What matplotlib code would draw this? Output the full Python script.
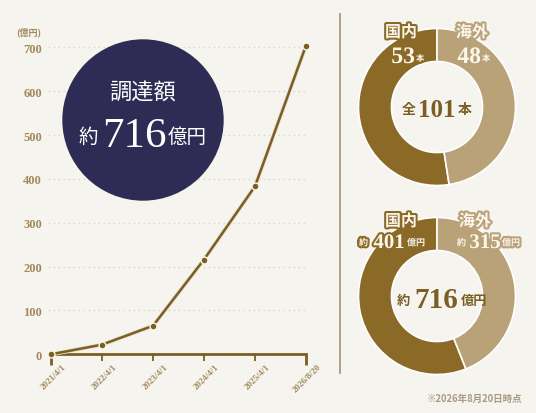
import matplotlib.pyplot as plt
import matplotlib.patheffects as pe
from matplotlib.patches import Circle
from matplotlib.transforms import ScaledTranslation

# data
dates = ["2021/4/1", "2022/4/1", "2023/4/1", "2024/4/1", "2025/4/1", "2026/8/20"]
amounts = [0, 22, 65, 216, 383, 704]
y_ticks = [0, 100, 200, 300, 400, 500, 600, 700]
regions = ["国内", "海外"]
deal_counts = [53, 48]
region_amounts = [401, 315]
total_count = 101
total_amount = 716

# colors
BG = "#f6f4ef"
DARK = "#8b6a28"
LIGHT = "#b9a278"
LINE = "#7a5e24"
TICK = "#a08a5c"
NAVY = "#2e2b54"
CREAM = "#fbf7ec"

JP = ["Noto Sans CJK JP", "DejaVu Sans"]
SERIF = ["Liberation Serif", "DejaVu Serif"]

W, H = 536, 414
fig = plt.figure(figsize=(W / 100, H / 100), dpi=100, facecolor=BG)

def box(left, top, width, height):
    return [left / W, (H - top - height) / H, width / W, height / H]

# line chart ---------------------------------------------------------
# x: index 0 at px 51, 51px per step ; y: 0 at px 355.3, 0.4386 px per unit
x0, dx = 51, 51
y0, dy = 355.3, 0.4386
ax_l, ax_r, ax_t, ax_b = 46, 318, 28, 372
ax = fig.add_axes(box(ax_l, ax_t, ax_r - ax_l, ax_b - ax_t))
ax.set_facecolor("none")
ax.set_xlim((ax_l - x0) / dx, (ax_r - x0) / dx)
ax.set_ylim((y0 - ax_b) / dy, (y0 - ax_t) / dy)
xs = list(range(len(dates)))

ax.hlines(y_ticks[1:], -0.06, 5.04, colors="#e0d9c9", linestyles=(0, (1.2, 2.4)), linewidth=1, zorder=1)
ax.plot(xs, amounts, color=LINE, lw=1.8, zorder=3,
        path_effects=[pe.Stroke(linewidth=3, foreground="#e8e1cf"), pe.Normal()])
ax.plot(xs, amounts, ls="none", marker="o", ms=5, mfc=LINE, mec=CREAM, mew=1, zorder=4)

for s in ["top", "right", "left"]:
    ax.spines[s].set_visible(False)
ax.spines["bottom"].set_position(("data", 0))
ax.spines["bottom"].set_bounds(0, len(dates) - 1)
ax.spines["bottom"].set_color(LINE)
ax.spines["bottom"].set_linewidth(2)

ax.set_yticks(y_ticks)
ax.set_yticklabels([str(v) for v in y_ticks], family=SERIF, fontsize=9, color=TICK, fontweight="bold")
ax.tick_params(axis="y", length=0, pad=3)

ax.set_xticks(xs)
ax.set_xticklabels(dates, family=SERIF, fontsize=6.4, color=TICK, fontweight="bold",
                   rotation=45, ha="right", va="center", rotation_mode="anchor")
ax.tick_params(axis="x", length=5, width=1.3, color=LINE, pad=0)
ticks = ax.xaxis.get_major_ticks()
for t in (ticks[0], ticks[-1]):
    t.tick1line.set_markersize(8)
    t.tick1line.set_markeredgewidth(2)
off = ScaledTranslation(14 / 100, -4 / 100, fig.dpi_scale_trans)
for lab in ax.get_xticklabels():
    lab.set_transform(lab.get_transform() + off)

# donuts -------------------------------------------------------------
R = 78.5
def donut(cx, cy, values):
    dax = fig.add_axes(box(cx - R, cy - R, 2 * R, 2 * R))
    dax.pie(values, colors=[DARK, LIGHT], startangle=90, counterclock=True, radius=1,
            wedgeprops=dict(width=0.42, edgecolor="white", linewidth=1.2))
    dax.set_xlim(-1, 1)
    dax.set_ylim(-1, 1)
    dax.set_aspect("equal")
    dax.axis("off")

donut(437, 108, deal_counts)
donut(437, 297, region_amounts)

# overlay for circle, separator and texts ---------------------------
ov = fig.add_axes([0, 0, 1, 1])
ov.set_xlim(0, W)
ov.set_ylim(H, 0)
ov.axis("off")
ov.patch.set_alpha(0)

ov.add_patch(Circle((143, 121), 80, color=NAVY, zorder=2))
ov.plot([340, 340], [15, 374], color="#a89a80", lw=1.3)

ov.text(29, 32, "(億円)", family=JP, fontsize=6.5, color=TICK, fontweight="bold", ha="center", va="center")

ov.text(143, 93, "調達額", family=JP, fontsize=16, color="white", ha="center", va="center", zorder=3)
ov.text(98, 137, "約", family=JP, fontsize=14, color="white", ha="right", va="center", zorder=3)
ov.text(134, 147, str(total_amount), family=SERIF, fontsize=31, color="white", ha="center", va="baseline", zorder=3)
ov.text(168, 137, "億円", family=JP, fontsize=14, color="white", ha="left", va="center", zorder=3)

def outlined(x, y, s, stroke, size, family=JP, ha="center", va="center"):
    ov.text(x, y, s, family=family, fontsize=size, color=CREAM, fontweight="bold", ha=ha, va=va,
            path_effects=[pe.withStroke(linewidth=3, foreground=stroke)])

# top donut labels
outlined(401, 33, regions[0], DARK, 11.5)
outlined(472, 33, regions[1], LIGHT, 11.5)
outlined(415, 64, str(deal_counts[0]), DARK, 17, family=SERIF, ha="right", va="baseline")
outlined(416, 62, "本", DARK, 6, ha="left", va="baseline")
outlined(481, 64, str(deal_counts[1]), LIGHT, 17, family=SERIF, ha="right", va="baseline")
outlined(482, 62, "本", LIGHT, 6, ha="left", va="baseline")

ov.text(416, 110, "全", family=JP, fontsize=10, color=LINE, fontweight="bold", ha="right", va="center")
ov.text(437, 117, str(total_count), family=SERIF, fontsize=18, color=LINE, fontweight="bold", ha="center", va="baseline")
ov.text(458, 110, "本", family=JP, fontsize=10, color=LINE, fontweight="bold", ha="left", va="center")

# bottom donut labels
outlined(401, 222, regions[0], DARK, 11.5)
outlined(475, 222, regions[1], LIGHT, 11.5)
outlined(368, 244, "約", DARK, 6.5, ha="right", va="center")
outlined(389, 249, str(region_amounts[0]), DARK, 15, family=SERIF, ha="center", va="baseline")
outlined(407, 244, "億円", DARK, 6.5, ha="left", va="center")
outlined(466, 244, "約", LIGHT, 6.5, ha="right", va="center")
outlined(485, 249, str(region_amounts[1]), LIGHT, 15, family=SERIF, ha="center", va="baseline")
outlined(502, 244, "億円", LIGHT, 6.5, ha="left", va="center")

ov.text(410, 301, "約", family=JP, fontsize=9.5, color=LINE, fontweight="bold", ha="right", va="center")
ov.text(436, 308, str(total_amount), family=SERIF, fontsize=21, color=LINE, fontweight="bold", ha="center", va="baseline")
ov.text(461, 301, "億円", family=JP, fontsize=9.5, color=LINE, fontweight="bold", ha="left", va="center")

ov.text(522, 399, "※2026年8月20日時点", family=JP, fontsize=6.8, color="#a89a80", fontweight="bold",
        ha="right", va="center")

fig.savefig("out.png", dpi=100, facecolor=BG)
